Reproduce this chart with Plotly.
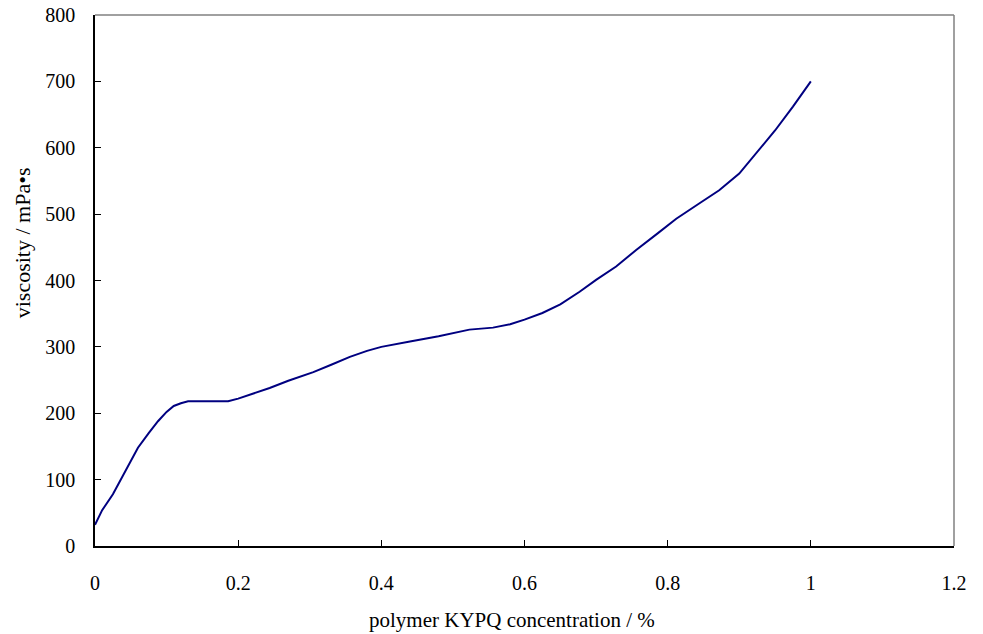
import plotly.graph_objects as go

concentration = [0, 0.01, 0.025, 0.04, 0.06, 0.075, 0.088, 0.1, 0.11, 0.12, 0.13, 0.15, 0.17, 0.186,
                 0.2, 0.22, 0.244, 0.27, 0.305, 0.33, 0.356, 0.38, 0.4, 0.44, 0.48, 0.523, 0.556,
                 0.58, 0.6, 0.625, 0.65, 0.677, 0.7, 0.728, 0.756, 0.786, 0.812, 0.844, 0.872,
                 0.9, 0.925, 0.95, 0.975, 1.0]
viscosity = [32, 54, 78, 109, 148, 170, 188, 202, 211, 215, 218, 218, 218, 218,
             222, 229, 238, 249, 262, 273, 285, 294, 300, 308, 316, 326, 329,
             334, 341, 351, 364, 383, 401, 421, 446, 471, 493, 516, 536,
             561, 593, 626, 662, 700]

x_ticks = [0, 0.2, 0.4, 0.6, 0.8, 1, 1.2]
x_tick_labels = ["0", "0.2", "0.4", "0.6", "0.8", "1", "1.2"]
y_ticks = [0, 100, 200, 300, 400, 500, 600, 700, 800]
x_title = "polymer KYPQ concentration / %"
y_title = "viscosity / mPa•s"

font_family = "Liberation Serif, Times New Roman, serif"

fig = go.Figure()
fig.add_trace(go.Scatter(x=concentration, y=viscosity, mode="lines",
                         line=dict(color="#000080", width=2), showlegend=False))

fig.update_layout(
    width=983, height=634,
    margin=dict(l=95, r=29, t=15, b=88),
    paper_bgcolor="white", plot_bgcolor="white",
    font=dict(family=font_family, size=20, color="black"),
    xaxis=dict(range=[0, 1.2], tickvals=x_ticks, ticktext=x_tick_labels, automargin=False,
               showgrid=False, zeroline=False, showline=True, linecolor="black", linewidth=1.5,
               ticks="inside", ticklen=6, tickcolor="black", ticklabelstandoff=18,
               ticklabeloverflow="allow"),
    yaxis=dict(range=[0, 800], tickvals=y_ticks, automargin=False,
               showgrid=False, zeroline=False, showline=True, linecolor="black", linewidth=1.5,
               ticks="inside", ticklen=6, tickcolor="black", ticklabelstandoff=14,
               ticklabeloverflow="allow"),
    annotations=[
        dict(text=x_title, xref="paper", yref="paper", x=0.485, y=-0.139,
             showarrow=False, xanchor="center", yanchor="middle",
             font=dict(family=font_family, size=21, color="black")),
        dict(text=y_title, xref="paper", yref="paper", x=-0.085, y=0.572, textangle=-90,
             showarrow=False, xanchor="center", yanchor="middle",
             font=dict(family=font_family, size=22, color="black")),
    ],
    shapes=[
        dict(type="line", xref="paper", yref="paper", x0=0, x1=1, y0=1, y1=1,
             line=dict(color="#808080", width=1.5)),
        dict(type="line", xref="paper", yref="paper", x0=1, x1=1, y0=0, y1=1,
             line=dict(color="#808080", width=1.5)),
    ],
)

fig.write_html("out.html", config={"displayModeBar": False},
               post_script="document.body.style.margin='0';document.body.style.overflow='hidden';")
